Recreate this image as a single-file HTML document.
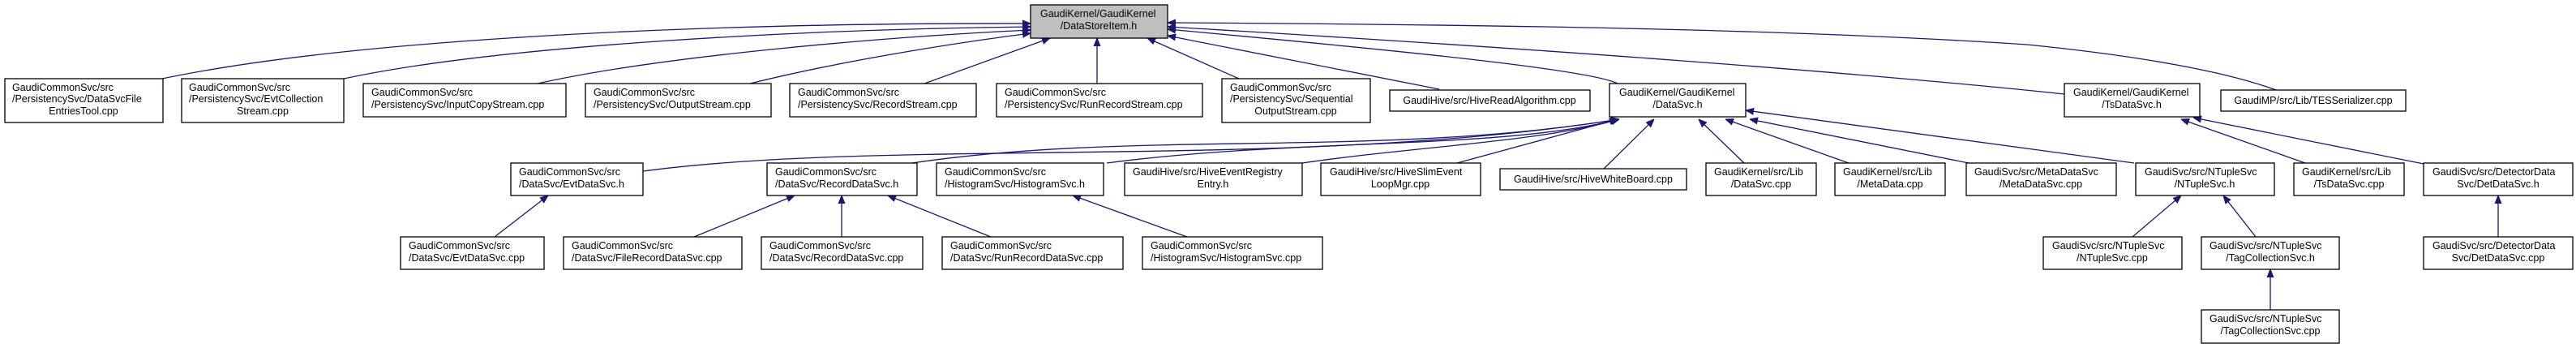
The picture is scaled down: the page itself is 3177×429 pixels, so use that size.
<!DOCTYPE html>
<html><head><meta charset="utf-8"><style>
html,body{margin:0;padding:0;background:#fff;}
svg{display:block;}
text{font-family:"Liberation Sans",Arial,sans-serif;font-size:12.5px;fill:#000;}
.b{fill:#fff;stroke:#000;stroke-width:1.3;}
.e{fill:none;stroke:#191970;stroke-width:1.3;}
</style></head><body>
<svg width="3177" height="429" viewBox="0 0 3177 429" xmlns="http://www.w3.org/2000/svg">
<defs><marker id="a" viewBox="0 0 10 10" refX="10" refY="5" markerWidth="10" markerHeight="10" markerUnits="userSpaceOnUse" orient="auto"><path d="M0,1 L10,5 L0,9 z" fill="#191970" stroke="#191970"/></marker></defs>

<!-- edges to DataStoreItem -->
<path class="e" marker-end="url(#a)" d="M200,97 C450,45 900,28 1271,29"/>
<path class="e" marker-end="url(#a)" d="M424,97 C620,55 1000,36 1271,33"/>
<path class="e" marker-end="url(#a)" d="M663,103 C820,68 1100,45 1271,37"/>
<path class="e" marker-end="url(#a)" d="M925,103 C1050,72 1200,50 1271,41"/>
<path class="e" marker-end="url(#a)" d="M1140,103 L1295,47"/>
<path class="e" marker-end="url(#a)" d="M1353,103 L1353,47"/>
<path class="e" marker-end="url(#a)" d="M1528,97 L1415,47"/>
<path class="e" marker-end="url(#a)" d="M1775,110 L1440,44"/>
<path class="e" marker-end="url(#a)" d="M1995,103 C1960,85 1700,60 1440,36"/>
<path class="e" marker-end="url(#a)" d="M2546,116 C2300,90 1900,60 1440,33"/>
<path class="e" marker-end="url(#a)" d="M2807,111 C2750,90 2650,70 2500,55 C2200,35 1800,30 1440,28"/>

<!-- edges to DataSvc.h -->
<path class="e" marker-end="url(#a)" d="M793,211 C1100,170 1600,210 1997,147"/>
<path class="e" marker-end="url(#a)" d="M1125,201 C1400,160 1700,195 1997,147"/>
<path class="e" marker-end="url(#a)" d="M1365,201 C1600,170 1850,185 1997,147"/>
<path class="e" marker-end="url(#a)" d="M1606,201 C1750,180 1900,175 1997,147"/>
<path class="e" marker-end="url(#a)" d="M1797,201 L1995,147"/>
<path class="e" marker-end="url(#a)" d="M1978,208 L2040,147"/>
<path class="e" marker-end="url(#a)" d="M2151,201 L2095,147"/>
<path class="e" marker-end="url(#a)" d="M2280,201 L2128,147"/>
<path class="e" marker-end="url(#a)" d="M2428,201 L2158,147"/>
<path class="e" marker-end="url(#a)" d="M2632,201 L2153,136"/>
<!-- TsDataSvc.h -->
<path class="e" marker-end="url(#a)" d="M2843,201 L2690,147"/>
<path class="e" marker-end="url(#a)" d="M2989,202 L2705,145"/>
<!-- row 3 to row 4 -->
<path class="e" marker-end="url(#a)" d="M610,292 L676,241"/>
<path class="e" marker-end="url(#a)" d="M856,292 L980,241"/>
<path class="e" marker-end="url(#a)" d="M1038,292 L1038,241"/>
<path class="e" marker-end="url(#a)" d="M1222,292 L1095,241"/>
<path class="e" marker-end="url(#a)" d="M1464,292 L1323,241"/>
<path class="e" marker-end="url(#a)" d="M2630,292 L2690,241"/>
<path class="e" marker-end="url(#a)" d="M2782,292 L2742,241"/>
<path class="e" marker-end="url(#a)" d="M3081,292 L3081,241"/>
<path class="e" marker-end="url(#a)" d="M2800,382 L2800,332"/>

<!-- root -->
<rect x="1271" y="6" width="169" height="41" fill="#bfbfbf" stroke="#000" stroke-width="1.3"/>
<text x="1283" y="21">GaudiKernel/GaudiKernel</text>
<text x="1355" y="36" text-anchor="middle">/DataStoreItem.h</text>

<!-- row 2 -->
<rect class="b" x="6" y="97" width="195" height="54"/>
<text x="15" y="112">GaudiCommonSvc/src</text><text x="15" y="126">/PersistencySvc/DataSvcFile</text><text x="103" y="141" text-anchor="middle">EntriesTool.cpp</text>
<rect class="b" x="224" y="97" width="200" height="54"/>
<text x="233" y="112">GaudiCommonSvc/src</text><text x="233" y="126">/PersistencySvc/EvtCollection</text><text x="324" y="141" text-anchor="middle">Stream.cpp</text>
<rect class="b" x="448" y="103" width="250" height="41"/>
<text x="458" y="118">GaudiCommonSvc/src</text><text x="458" y="133">/PersistencySvc/InputCopyStream.cpp</text>
<rect class="b" x="722" y="103" width="229" height="41"/>
<text x="732" y="118">GaudiCommonSvc/src</text><text x="732" y="133">/PersistencySvc/OutputStream.cpp</text>
<rect class="b" x="974" y="103" width="230" height="41"/>
<text x="984" y="118">GaudiCommonSvc/src</text><text x="984" y="133">/PersistencySvc/RecordStream.cpp</text>
<rect class="b" x="1229" y="103" width="254" height="41"/>
<text x="1239" y="118">GaudiCommonSvc/src</text><text x="1239" y="133">/PersistencySvc/RunRecordStream.cpp</text>
<rect class="b" x="1507" y="97" width="183" height="54"/>
<text x="1517" y="112">GaudiCommonSvc/src</text><text x="1517" y="126">/PersistencySvc/Sequential</text><text x="1598" y="141" text-anchor="middle">OutputStream.cpp</text>
<rect class="b" x="1714" y="111" width="247" height="26"/>
<text x="1837" y="128" text-anchor="middle">GaudiHive/src/HiveReadAlgorithm.cpp</text>
<rect class="b" x="1985" y="103" width="168" height="41"/>
<text x="1997" y="118">GaudiKernel/GaudiKernel</text><text x="2069" y="133" text-anchor="middle">/DataSvc.h</text>
<rect class="b" x="2546" y="103" width="167" height="41"/>
<text x="2557" y="118">GaudiKernel/GaudiKernel</text><text x="2629" y="133" text-anchor="middle">/TsDataSvc.h</text>
<rect class="b" x="2739" y="111" width="228" height="26"/>
<text x="2853" y="128" text-anchor="middle">GaudiMP/src/Lib/TESSerializer.cpp</text>

<!-- row 3 -->
<rect class="b" x="630" y="201" width="163" height="40"/>
<text x="640" y="216">GaudiCommonSvc/src</text><text x="640" y="231">/DataSvc/EvtDataSvc.h</text>
<rect class="b" x="946" y="201" width="185" height="40"/>
<text x="956" y="216">GaudiCommonSvc/src</text><text x="956" y="231">/DataSvc/RecordDataSvc.h</text>
<rect class="b" x="1155" y="201" width="206" height="40"/>
<text x="1165" y="216">GaudiCommonSvc/src</text><text x="1165" y="231">/HistogramSvc/HistogramSvc.h</text>
<rect class="b" x="1387" y="201" width="219" height="40"/>
<text x="1397" y="216">GaudiHive/src/HiveEventRegistry</text><text x="1496" y="231" text-anchor="middle">Entry.h</text>
<rect class="b" x="1629" y="201" width="197" height="40"/>
<text x="1640" y="216">GaudiHive/src/HiveSlimEvent</text><text x="1727" y="231" text-anchor="middle">LoopMgr.cpp</text>
<rect class="b" x="1850" y="208" width="230" height="26"/>
<text x="1965" y="225" text-anchor="middle">GaudiHive/src/HiveWhiteBoard.cpp</text>
<rect class="b" x="2104" y="201" width="136" height="40"/>
<text x="2114" y="216">GaudiKernel/src/Lib</text><text x="2172" y="231" text-anchor="middle">/DataSvc.cpp</text>
<rect class="b" x="2263" y="201" width="136" height="40"/>
<text x="2273" y="216">GaudiKernel/src/Lib</text><text x="2331" y="231" text-anchor="middle">/MetaData.cpp</text>
<rect class="b" x="2425" y="201" width="185" height="40"/>
<text x="2435" y="216">GaudiSvc/src/MetaDataSvc</text><text x="2517" y="231" text-anchor="middle">/MetaDataSvc.cpp</text>
<rect class="b" x="2634" y="201" width="171" height="40"/>
<text x="2645" y="216">GaudiSvc/src/NTupleSvc</text><text x="2719" y="231" text-anchor="middle">/NTupleSvc.h</text>
<rect class="b" x="2829" y="201" width="136" height="40"/>
<text x="2839" y="216">GaudiKernel/src/Lib</text><text x="2897" y="231" text-anchor="middle">/TsDataSvc.cpp</text>
<rect class="b" x="2989" y="201" width="184" height="40"/>
<text x="3000" y="216">GaudiSvc/src/DetectorData</text><text x="3081" y="231" text-anchor="middle">Svc/DetDataSvc.h</text>

<!-- row 4 -->
<rect class="b" x="494" y="292" width="177" height="40"/>
<text x="504" y="307">GaudiCommonSvc/src</text><text x="504" y="322">/DataSvc/EvtDataSvc.cpp</text>
<rect class="b" x="695" y="292" width="220" height="40"/>
<text x="705" y="307">GaudiCommonSvc/src</text><text x="705" y="322">/DataSvc/FileRecordDataSvc.cpp</text>
<rect class="b" x="939" y="292" width="199" height="40"/>
<text x="949" y="307">GaudiCommonSvc/src</text><text x="949" y="322">/DataSvc/RecordDataSvc.cpp</text>
<rect class="b" x="1162" y="292" width="223" height="40"/>
<text x="1172" y="307">GaudiCommonSvc/src</text><text x="1172" y="322">/DataSvc/RunRecordDataSvc.cpp</text>
<rect class="b" x="1409" y="292" width="222" height="40"/>
<text x="1419" y="307">GaudiCommonSvc/src</text><text x="1419" y="322">/HistogramSvc/HistogramSvc.cpp</text>
<rect class="b" x="2520" y="292" width="171" height="40"/>
<text x="2531" y="307">GaudiSvc/src/NTupleSvc</text><text x="2605" y="322" text-anchor="middle">/NTupleSvc.cpp</text>
<rect class="b" x="2715" y="292" width="170" height="40"/>
<text x="2725" y="307">GaudiSvc/src/NTupleSvc</text><text x="2800" y="322" text-anchor="middle">/TagCollectionSvc.h</text>
<rect class="b" x="2989" y="292" width="184" height="40"/>
<text x="3000" y="307">GaudiSvc/src/DetectorData</text><text x="3081" y="322" text-anchor="middle">Svc/DetDataSvc.cpp</text>

<!-- row 5 -->
<rect class="b" x="2715" y="382" width="170" height="41"/>
<text x="2725" y="397">GaudiSvc/src/NTupleSvc</text><text x="2800" y="412" text-anchor="middle">/TagCollectionSvc.cpp</text>
</svg>
</body></html>
